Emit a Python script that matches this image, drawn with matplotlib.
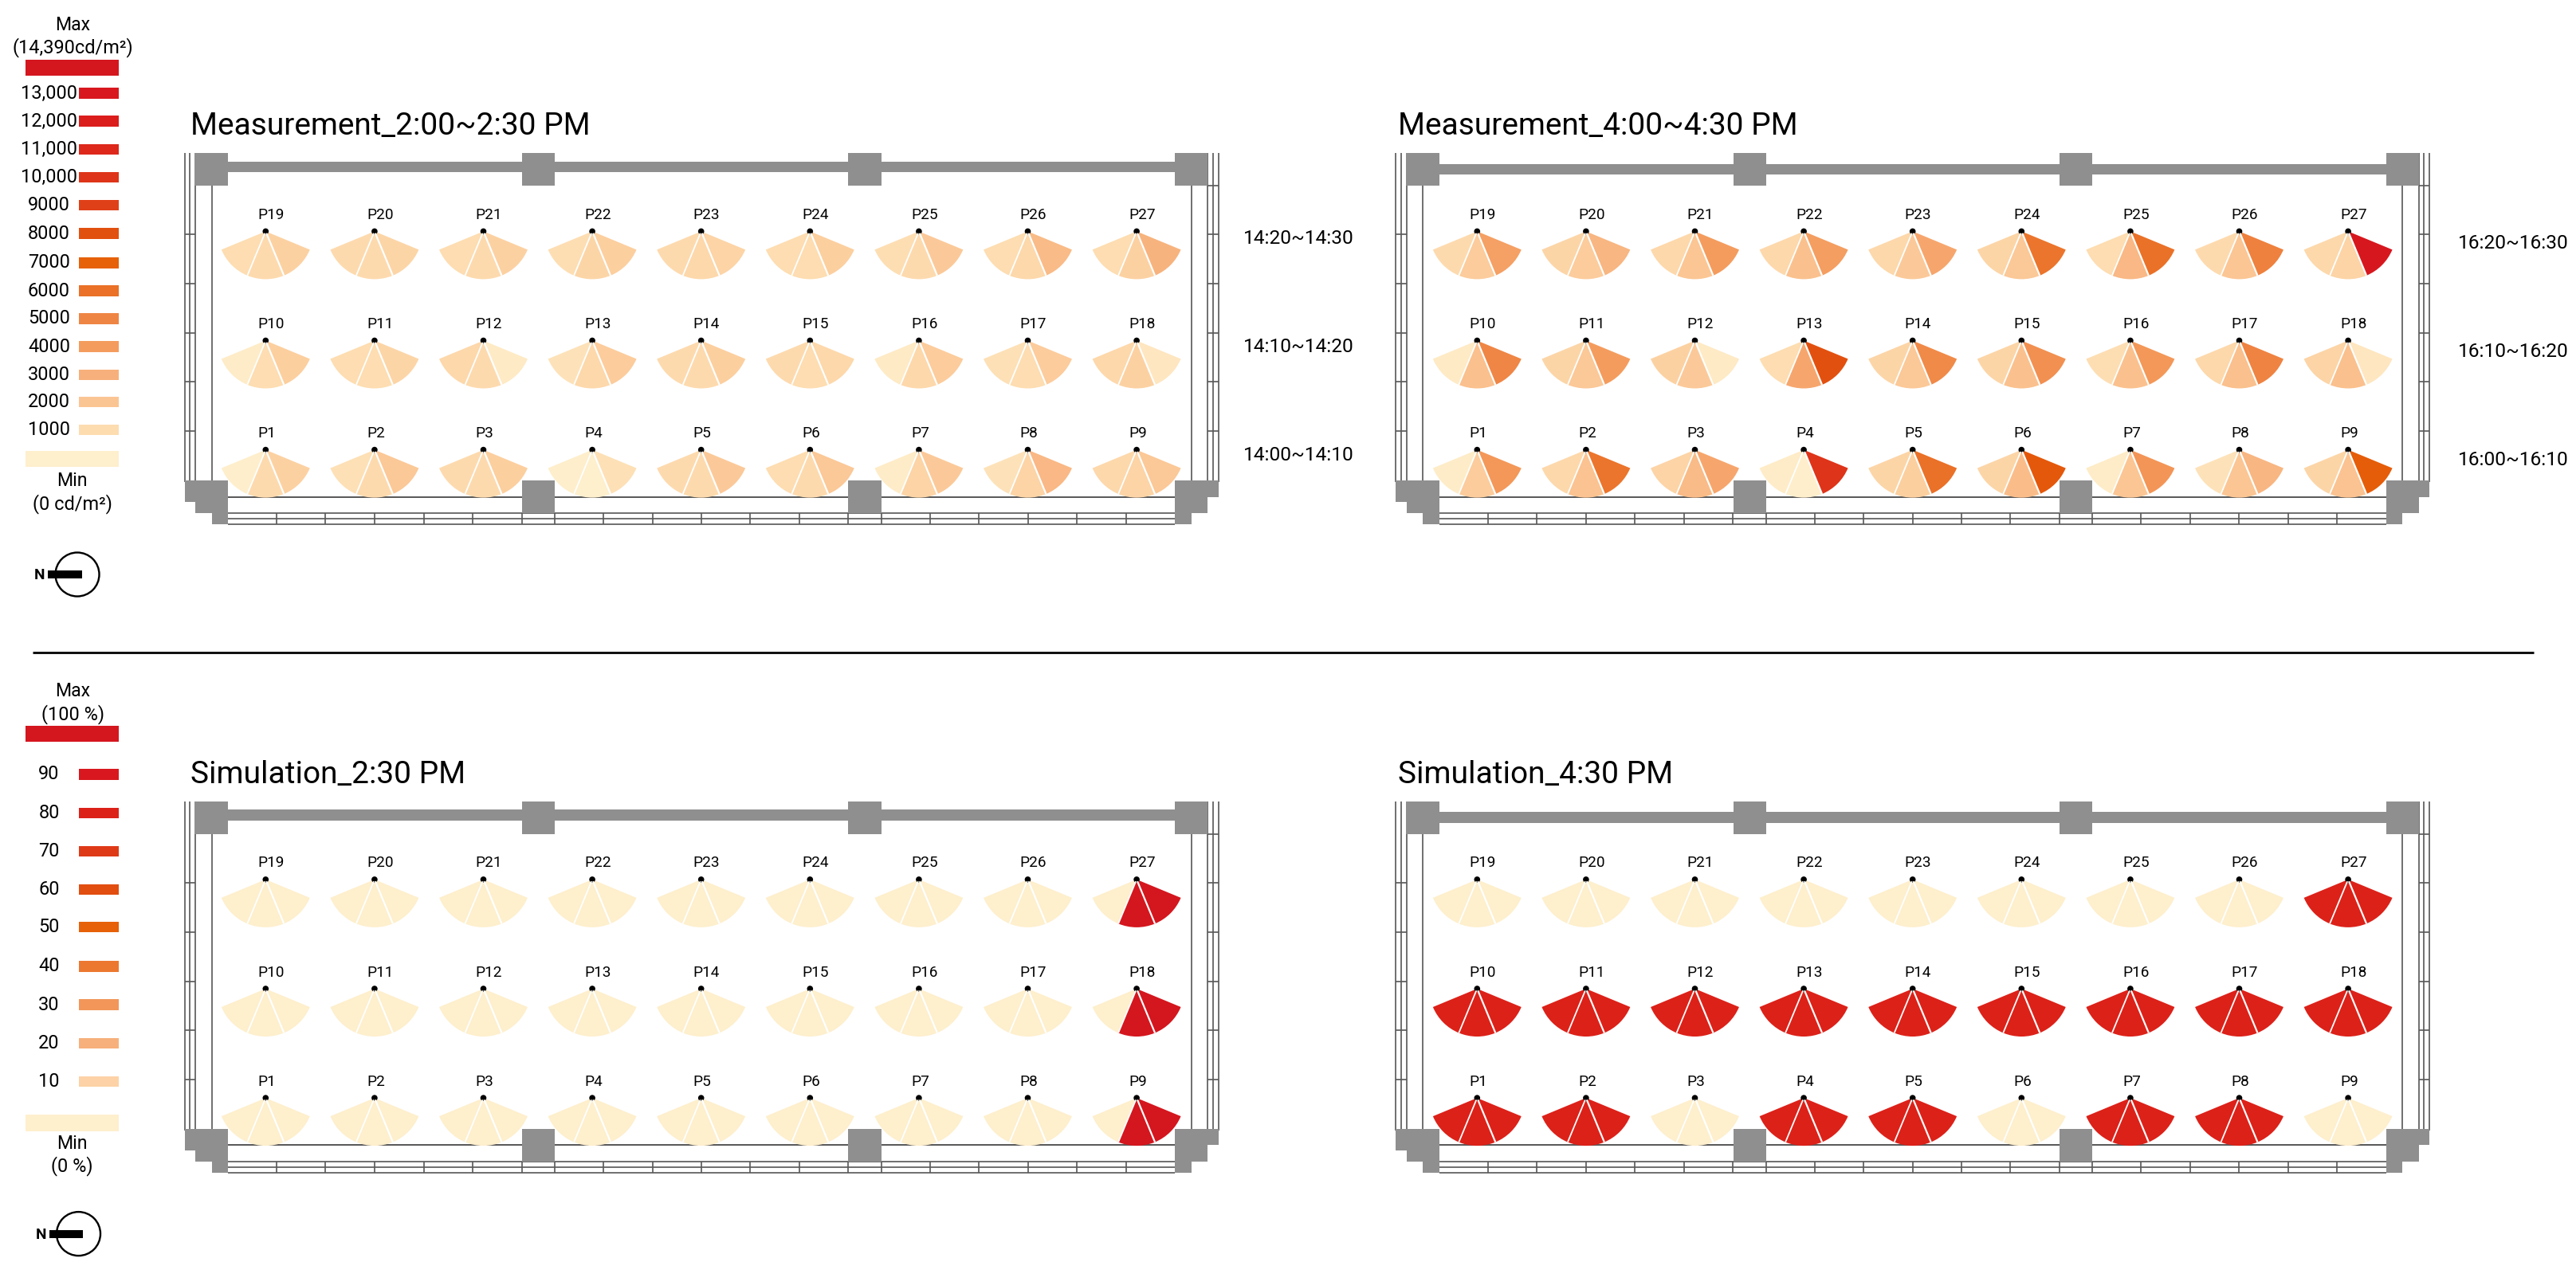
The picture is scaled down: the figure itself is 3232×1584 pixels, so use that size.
""" Luminance and glare maps on the classroom plan, 4 panels plus 2 legends.

Everything is drawn in one full-figure axes whose units are the pixels of the
reference image, y pointing down, so layout numbers can be read off directly.
"""

import matplotlib
matplotlib.use("Agg")
import matplotlib.pyplot as plt
from matplotlib.colors import LinearSegmentedColormap, Normalize
from matplotlib.patches import Circle, Rectangle, Wedge

plt.rcParams["font.family"] = ["Roboto", "Liberation Sans", "DejaVu Sans"]

# ---- Legend data -----------------------------------------------------------
LUM_MAX = 14390
LUM_TICKS = [1000, 2000, 3000, 4000, 5000, 6000, 7000, 8000, 9000, 10000,
             11000, 12000, 13000]
LUM_LABELS = ["1000", "2000", "3000", "4000", "5000", "6000", "7000", "8000",
              "9000", "10,000", "11,000", "12,000", "13,000"]
LUM_COLORS = ["#fddcb0", "#fbc593", "#f7b07b", "#f49c5e", "#ef8544", "#ea7127",
              "#e66107", "#e2500f", "#e04018", "#de3419", "#dd281b", "#db1d1c",
              "#d9171e"]
SIM_TICKS = [10, 20, 30, 40, 50, 60, 70, 80, 90]
SIM_LABELS = ["10", "20", "30", "40", "50", "60", "70", "80", "90"]
SIM_COLORS = ["#fcd2a6", "#f7b07b", "#f2965a", "#ec7830", "#e66107", "#e14e10",
              "#df3a18", "#dc2119", "#d9171e"]
MIN_COLOR = "#feefcd"
MAX_COLOR = "#d4161e"

# ---- Point values: (left, middle, right) sector, in cd/m2 or % -------------
# measurement 14:00~14:30, row by row as the points are numbered
M2_ROW1 = [(100, 1100, 1500), (800, 1100, 1900), (1100, 1100, 1600),
           (100, 50, 800), (1100, 1100, 1800), (1000, 1100, 1900),
           (200, 1400, 1800), (700, 1400, 2600), (1200, 1400, 1900)]
M2_ROW2 = [(200, 1000, 1600), (1000, 1000, 1300), (1200, 1100, 300),
           (700, 1200, 1700), (1100, 1100, 1600), (1100, 1000, 1200),
           (300, 1200, 1700), (800, 1000, 1700), (1200, 1500, 500)]
M2_ROW3 = [(1000, 1100, 1500), (1100, 1100, 1300), (1000, 1100, 1500),
           (900, 1300, 1600), (1100, 1200, 1400), (1000, 1000, 1600),
           (900, 1100, 1800), (1000, 1200, 2500), (1000, 1500, 2900)]

# measurement 16:00~16:30
M4_ROW1 = [(200, 1700, 4200), (1200, 2100, 5800), (1400, 2500, 3500),
           (200, 100, 10000), (1300, 1600, 6000), (1300, 2400, 7500),
           (200, 2000, 4300), (700, 2000, 2700), (1300, 2100, 7200)]
M4_ROW2 = [(300, 2300, 5000), (1300, 1900, 4000), (1500, 1800, 300),
           (1000, 3500, 8000), (1300, 1900, 4800), (1300, 2200, 4500),
           (900, 2200, 4200), (1200, 2300, 5100), (1400, 2300, 500)]
M4_ROW3 = [(1100, 1700, 3800), (1300, 1700, 2700), (1200, 2000, 4000),
           (1200, 2200, 3900), (1200, 1800, 3500), (1300, 1900, 5800),
           (1000, 2600, 6000), (1100, 2000, 5200), (1200, 1400, 13500)]

# simulation, percent
S2_ROW1 = [(0, 0, 0)] * 8 + [(0, 100, 100)]
S2_ROW2 = [(0, 0, 0)] * 8 + [(0, 100, 100)]
S2_ROW3 = [(0, 0, 0)] * 8 + [(0, 100, 100)]
S4_ROW1 = [(80, 80, 80), (80, 80, 80), (0, 0, 0), (80, 80, 80), (80, 80, 80),
           (0, 0, 0), (80, 80, 80), (80, 80, 80), (0, 0, 0)]
S4_ROW2 = [(80, 80, 80)] * 9
S4_ROW3 = [(0, 0, 0)] * 8 + [(80, 80, 80)]

TITLES = ["Measurement_2:00~2:30 PM", "Measurement_4:00~4:30 PM",
          "Simulation_2:30 PM", "Simulation_4:30 PM"]
TIMES_2 = ["14:00~14:10", "14:10~14:20", "14:20~14:30"]
TIMES_4 = ["16:00~16:10", "16:10~16:20", "16:20~16:30"]

# ---- Styles ----------------------------------------------------------------
GRAY = "#8f8f8f"
LINE = "#5a5a5a"
PX = 0.72   # one image pixel in points at dpi=100

lum_cmap = LinearSegmentedColormap.from_list(
    "lum", [(0, MIN_COLOR)]
    + [(t / LUM_MAX, c) for t, c in zip(LUM_TICKS, LUM_COLORS)]
    + [(1, MAX_COLOR)])
sim_cmap = LinearSegmentedColormap.from_list(
    "sim", [(0, MIN_COLOR)]
    + [(t / 100, c) for t, c in zip(SIM_TICKS, SIM_COLORS)]
    + [(1, MAX_COLOR)])
lum_norm = Normalize(0, LUM_MAX)
sim_norm = Normalize(0, 100)

fig = plt.figure(figsize=(32.32, 15.84), dpi=100)
ax = fig.add_axes([0, 0, 1, 1])
ax.set_xlim(0, 3232)
ax.set_ylim(1584, 0)
ax.axis("off")


def block(x0, y0, x1, y1, color=GRAY, z=2):
    ax.add_patch(Rectangle((x0, y0), x1 - x0, y1 - y0, fc=color, ec="none", zorder=z))


def thin(xs, ys, lw=1.7):
    ax.plot(xs, ys, color=LINE, lw=lw * PX, solid_capstyle="butt", zorder=1)


def draw_plan(dx, dy, wall_dy):
    """Walls, columns and window frame of the room, offset for each panel."""
    # column stubs along the top
    for x0, x1 in [(244, 286), (655, 696), (1064, 1105.5), (1474, 1515)]:
        block(x0 + dx, 192 + dy, x1 + dx, 233 + dy)
    block(286 + dx, 202.5 + dy + wall_dy, 1474 + dx, 216.4 + dy + wall_dy)
    # columns along the bottom
    for x0, x1 in [(655, 696), (1064, 1105.5)]:
        block(x0 + dx, 603 + dy, x1 + dx, 644 + dy)
    # stepped corners
    block(231.5 + dx, 603 + dy, 286 + dx, 630 + dy)
    block(245 + dx, 603 + dy, 286 + dx, 644 + dy)
    block(265.5 + dx, 603 + dy, 286 + dx, 658 + dy)
    block(1474 + dx, 603 + dy, 1528.5 + dx, 623.5 + dy)
    block(1474 + dx, 603 + dy, 1515 + dx, 644 + dy)
    block(1474 + dx, 603 + dy, 1494.5 + dx, 658 + dy)

    # side window frames
    for x in [231.5, 238, 245]:
        thin([x + dx, x + dx], [192 + dy, 605 + dy])
    for x in [1515, 1521.7, 1528.5]:
        thin([x + dx, x + dx], [192 + dy, 605 + dy])
    thin([265.5 + dx] * 2, [233 + dy, 605 + dy])
    thin([1494.5 + dx] * 2, [233 + dy, 605 + dy])
    for y in [294, 356, 418, 479, 541]:
        thin([231.5 + dx, 245 + dx], [y + dy, y + dy])
        thin([1515 + dx, 1528.5 + dx], [y + dy, y + dy])
    thin([1515 + dx, 1528.5 + dx], [233 + dy, 233 + dy])

    # bottom window frame
    thin([286 + dx, 1474 + dx], [623.5 + dy, 623.5 + dy], lw=2)
    for y in [644, 651, 658]:
        thin([286 + dx, 1474 + dx], [y + dy, y + dy])
    for x in [347, 408.3, 470, 531.7, 593, 654.7, 696, 757, 818.5, 880, 941,
              1002.5, 1064, 1105.5, 1166.7, 1228, 1289.5, 1351, 1412.5]:
        thin([x + dx, x + dx], [644 + dy, 658 + dy])


def draw_fans(rows, cmap, norm, dx, dy):
    """One three-sector fan per point; rows[0] is the row nearest the window."""
    radius = 60
    number = 1
    for r, row in enumerate(rows):
        apex_y = 564.6 - 137.1 * r + dy
        for c, sectors in enumerate(row):
            apex_x = 333.3 + 136.6 * c + dx
            spans = [(112.5, 157.5), (67.5, 112.5), (22.5, 67.5)]
            for span, value in zip(spans, sectors):
                ax.add_patch(Wedge((apex_x, apex_y), radius, span[0], span[1],
                                   fc=cmap(norm(value)), ec="none", zorder=3))
            ax.add_patch(Circle((apex_x, apex_y), 3.8, fc="black", ec="none", zorder=4))
            # white dividers run over the dot, which leaves the small notches
            for frac, lw in [(-1, 1.8), (1, 2.2)]:
                ux, uy = frac * 0.3827, 0.9239
                ax.plot([apex_x + ux * 2.5, apex_x + ux * radius],
                        [apex_y + uy * 2.5, apex_y + uy * radius],
                        color="white", lw=lw * PX, zorder=5,
                        solid_capstyle="butt")
            ax.text(apex_x - 10, apex_y - 20.5, f"P{number}", fontsize=19 * PX,
                    ha="left", va="center", color="black", zorder=6)
            number += 1


def draw_legend(labels, colors, ys, bar_h, max_lines, max_ys, bar_top, min_lines,
                min_ys, bar_bottom, north_y, north_dx):
    ax.text(91, max_ys[0], max_lines[0], fontsize=23 * PX, ha="center", va="center")
    ax.text(91, max_ys[1], max_lines[1], fontsize=23.5 * PX, ha="center", va="center")
    block(32, bar_top, 148.7, bar_top + 20, MAX_COLOR)
    for label, color, y in zip(labels, colors, ys):
        block(99, y - bar_h / 2, 148.7, y + bar_h / 2, color)
        ax.text(61.5, y, label, fontsize=23.5 * PX, ha="center", va="center")
    block(32, bar_bottom, 148.7, bar_bottom + 20.5, MIN_COLOR)
    ax.text(90.5, min_ys[0], min_lines[0], fontsize=23 * PX, ha="center", va="center")
    ax.text(90.5, min_ys[1], min_lines[1], fontsize=23.5 * PX, ha="center", va="center")

    ax.add_patch(Circle((97 + north_dx, north_y), 27.5, fc="none", ec="black",
                        lw=2.4 * PX, zorder=3))
    block(60 + north_dx, north_y - 5, 102.5 + north_dx, north_y + 5, "black", z=4)
    ax.text(50 + north_dx, north_y + 1, "N", fontsize=19 * PX, fontweight="bold",
            ha="center", va="center")


PANELS = [
    (TITLES[0], (M2_ROW1, M2_ROW2, M2_ROW3), lum_cmap, lum_norm, 0, 0, 0, 0, TIMES_2),
    (TITLES[1], (M4_ROW1, M4_ROW2, M4_ROW3), lum_cmap, lum_norm, 1519.5, 0, 3, 1, TIMES_4),
    (TITLES[2], (S2_ROW1, S2_ROW2, S2_ROW3), sim_cmap, sim_norm, 0, 813.5, 0, 0, None),
    (TITLES[3], (S4_ROW1, S4_ROW2, S4_ROW3), sim_cmap, sim_norm, 1519.5, 813.5, 3, 1, None),
]

for title, rows, cmap, norm, dx, dy, wall_dy, extra, times in PANELS:
    draw_plan(dx, dy, wall_dy)
    draw_fans(rows, cmap, norm, dx + extra * 0.5, dy)
    ax.text(239 + dx - extra * 4, 159 + dy, title, fontsize=38.9 * PX, ha="left", va="center")
    if times:
        x_t = 1560 if not extra else 3084
        y_t = [571, 436, 300] if not extra else [577, 441.6, 306]
        for label, y in zip(times, y_t):
            ax.text(x_t, y, label, fontsize=24.5 * PX, ha="left", va="center")

draw_legend(LUM_LABELS, LUM_COLORS,
            [539.5, 504.5, 470.5, 435, 400, 365, 330, 293, 257.5, 222.5, 187.5, 152, 117],
            13.5, ["Max", "(14,390cd/m²)"], [32, 60], 75,
            ["Min", "(0 cd/m²)"], [603.5, 632.5], 565.5, 721, 0)
draw_legend(SIM_LABELS, SIM_COLORS,
            [1357.6, 1309.5, 1261, 1212.9, 1163.8, 1116.7, 1068.6, 1020.5, 972],
            13.3, ["Max", "(100 %)"], [868, 896.7], 910.5,
            ["Min", "(0 %)"], [1435, 1463.8], 1399, 1548.6, 1.5)

# separator between measurement and simulation
ax.plot([41, 3179], [819.3, 819.3], color="#111111", lw=3 * PX, solid_capstyle="butt")

fig.savefig("out.png", dpi=100)
